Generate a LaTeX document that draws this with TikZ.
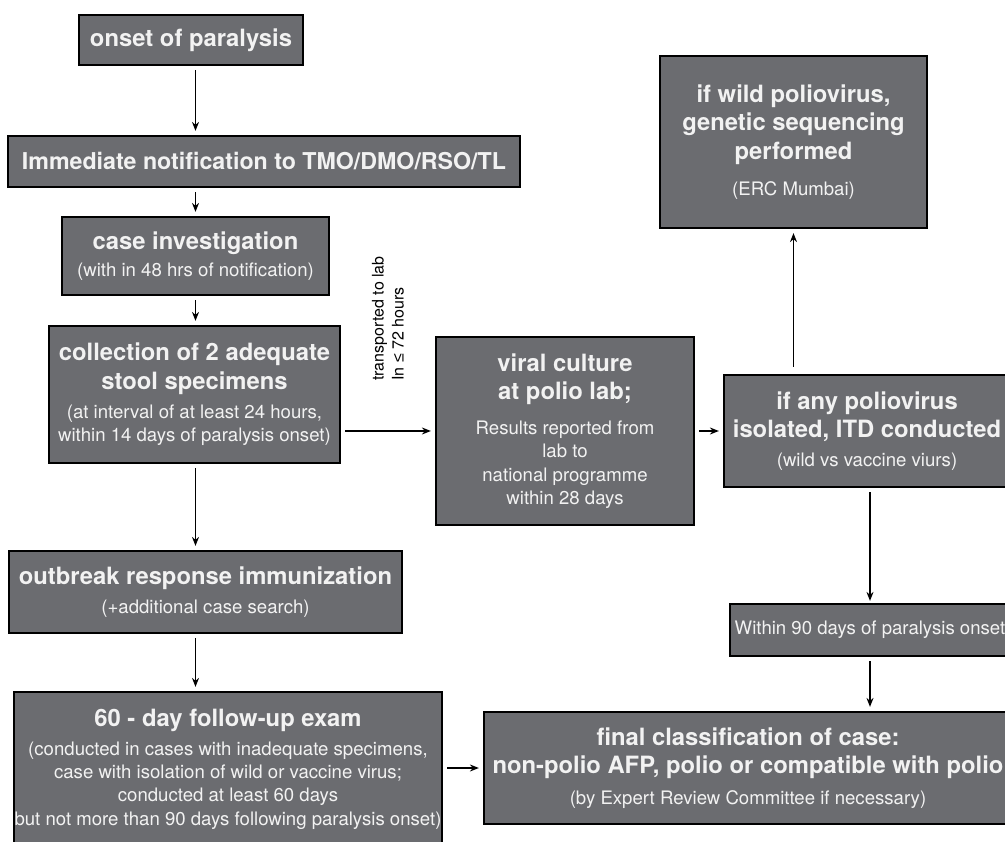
\documentclass[tikz,border=0pt]{standalone}
\usepackage{fontspec}
\setmainfont{TeX Gyre Heros}
\newfontfamily\lesssym{Liberation Sans}
\usetikzlibrary{arrows.meta}
\definecolor{boxgrey}{RGB}{107,108,112}
\definecolor{boxtext}{RGB}{242,242,242}
\newcommand{\hd}[1]{{\fontsize{23.8}{28.5}\selectfont\bfseries #1}}
\tikzset{
    box/.style={draw=black, line width=2.2pt, fill=boxgrey, text=boxtext, align=center,
        inner sep=0pt, font=\fontsize{18.6}{23.3}\selectfont},
    arr/.style={-{Stealth[length=9pt,width=7pt]}, line width=1.3pt, shorten >=4pt, shorten <=4pt},
    note/.style={font=\fontsize{16}{20}\selectfont, align=left}
}

\begin{document}
\begin{tikzpicture}[x=1pt, y=-1pt]
        \useasboundingbox (0,0) rectangle (1005,842);
        \node[box, minimum width=224pt, minimum height=50pt] (onset) at (191,40) {\hd{onset of paralysis}};
        \node[box, minimum width=512pt, minimum height=51pt] (notif) at (264,161.5)
                {{\fontsize{23.2}{28}\selectfont\bfseries Immediate notification to TMO/DMO/RSO/TL}};
        \node[box, minimum width=267pt, minimum height=78pt] (invest) at (195.5,256)
                {\hd{case investigation}\\[3pt] (with in 48 hrs of notification)};
        \node[box, minimum width=291pt, minimum height=137pt] (collect) at (194.5,394.5)
                {\hd{collection of 2 adequate}\\[5pt] \hd{stool specimens}\\[6pt]
                 (at interval of at least 24 hours,\\ within 14 days of paralysis onset)};
        \node[box, minimum width=258pt, minimum height=188pt] (viral) at (565,431)
                {\hd{viral culture}\\[5pt] \hd{at polio lab;}\\[12pt]
                 Results reported from\\ lab to\\ national programme\\ within 28 days};
        \node[box, minimum width=286pt, minimum height=112pt] (ITD) at (867,431)
                {\hd{if any poliovirus}\\[5pt] \hd{isolated, ITD conducted}\\[5pt] (wild vs vaccine viurs)};
        \node[box, minimum width=267pt, minimum height=172pt] (wild) at (793.5,142)
                {\hd{if wild poliovirus,}\\[5pt] \hd{genetic sequencing}\\[5pt] \hd{performed}\\[13pt] (ERC Mumbai)};
        \node[box, minimum width=280pt, minimum height=52pt] (within) at (870,630)
                {Within 90 days of paralysis onset};
        \node[box, minimum width=528pt, minimum height=112pt] (final) at (748,768)
                {\hd{final classification of case:}\\[5pt] \hd{non-polio AFP, polio or compatible with polio}\\[8pt]
                 (by Expert Review Committee if necessary)};
        \node[box, minimum width=393pt, minimum height=82pt] (outbreak) at (205.5,592)
                {\hd{outbreak response immunization}\\[5pt] (+additional case search)};
        \node[box, minimum width=428pt, minimum height=154pt] (followup) at (228,769)
                {\hd{60 - day follow-up exam}\\[6pt] (conducted in cases with inadequate specimens,\\
                 case with isolation of wild or vaccine virus;\\ conducted at least 60 days\\
                 but not more than 90 days following paralysis onset)};
        \node[note, rotate=90] (trans) at (388,318.5) {transported to lab\\In {\lesssym ≤} 72 hours};

        \draw[arr] (onset.south -| invest) -- (notif.north -| invest);
        \draw[arr] (notif.south -| invest) -- (invest.north);
        \draw[arr] (invest.south) -- (collect.north -| invest);
        \draw[arr] (collect.south -| invest) -- (outbreak.north -| invest);
        \draw[arr] (outbreak.south -| invest) -- (followup.north -| invest);
        \draw[arr] (collect.east |- viral) -- (viral.west);
        \draw[arr] (viral.east) -- (ITD.west);
        \draw[arr, shorten <=7pt] (ITD.north -| wild) -- (wild.south);
        \draw[arr, shorten >=2pt] (ITD.south -| within) -- (within.north);
        \draw[arr] (within.south) -- (final.north -| within);
        \draw[arr] (followup.east |- final) -- (final.west);
    \end{tikzpicture}
\end{document}
